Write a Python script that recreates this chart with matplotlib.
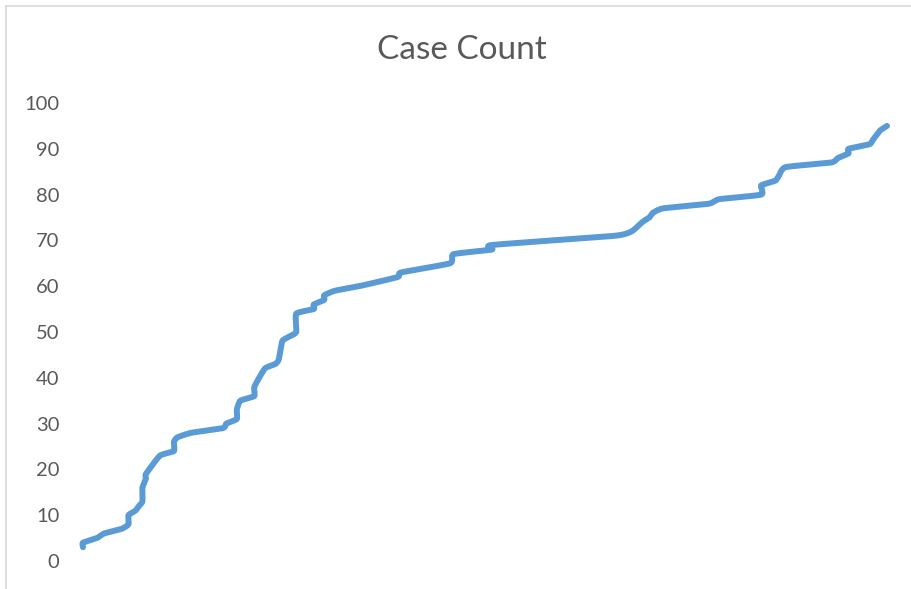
import numpy as np
import matplotlib.pyplot as plt
from matplotlib.lines import Line2D

# cumulative case count by day (several reports on one day give vertical steps)
days = [0, 0, 4, 6, 11, 13, 13, 15, 16, 17, 17, 18, 18, 22, 26, 26, 27, 31,
        40, 41, 44, 44, 45, 49, 49, 52, 55, 56, 57, 59, 61, 61, 66, 66, 69, 69,
        72, 79, 90, 91, 105, 106, 117, 117, 152, 157, 160, 162, 163, 166, 179,
        182, 194, 194, 198, 199, 201, 214, 216, 219, 219, 225, 226, 227, 228, 230]
cases = [3, 4, 5, 6, 7, 8, 10, 11, 12, 13, 16, 18, 19, 23, 24, 26, 27, 28,
         29, 30, 31, 33, 35, 36, 38, 42, 43, 44, 48, 49, 50, 54, 55, 56, 57, 58,
         59, 60, 62, 63, 65, 67, 68, 69, 71, 72, 74, 75, 76, 77, 78,
         79, 80, 82, 83, 84, 86, 87, 88, 89, 90, 91, 92, 93, 94, 95]
yticks = list(range(0, 101, 10))

W, H = 911, 589
BLUE = "#5B9BD5"
GREY = "#595959"

fig = plt.figure(figsize=(W / 100, H / 100), dpi=100)
ax_l, ax_r, ax_b, ax_t = 83, 887, 561, 103
ax = fig.add_axes([ax_l / W, (H - ax_b) / H, (ax_r - ax_l) / W, (ax_b - ax_t) / H])
ax.set_xlim(0, max(days))
ax.set_ylim(0, 100)


def smooth(x, y, sx, sy, k=12, n=16):
	"""
	Catmull-Rom style smoothing (low tension), done in pixel units.
	"""
	p = np.column_stack([np.asarray(x, float) * sx, np.asarray(y, float) * sy])
	p = np.vstack([p[0], p, p[-1]])
	t = np.linspace(0, 1, n)[:, None]
	out = []
	for i in range(1, len(p) - 2):
		p0, p1, p2, p3 = p[i - 1], p[i], p[i + 1], p[i + 2]
		c1 = p1 + (p2 - p0) / k
		c2 = p2 - (p3 - p1) / k
		seg = ((1 - t) ** 3) * p1 + 3 * ((1 - t) ** 2) * t * c1 + 3 * (1 - t) * t ** 2 * c2 + t ** 3 * p2
		out.append(seg if i == 1 else seg[1:])
	out = np.vstack(out)
	return out[:, 0] / sx, out[:, 1] / sy


sx = (ax_r - ax_l) / max(days)
sy = (ax_b - ax_t) / 100
xs, ys = smooth(days, cases, sx, sy)
ax.plot(xs, ys, color=BLUE, lw=4.3, solid_capstyle="round", solid_joinstyle="round", clip_on=False)

ax.set_yticks(yticks)
ax.set_yticklabels([str(v) for v in yticks], family="Lato", fontsize=14.5, color=GREY)
ax.tick_params(axis="y", length=0, pad=17)
ax.set_xticks([])
for s in ax.spines.values():
	s.set_visible(False)

fig.text(462 / W, 1 - 50 / H, "Case Count", ha="center", va="center",
         family="Lato", fontsize=24, color=GREY)

# chart frame (only top and left edges are inside the crop)
fig.add_artist(Line2D([5.5 / W, 5.5 / W], [0, 1 - 6 / H], transform=fig.transFigure, color="#D9D9D9", lw=1.2))
fig.add_artist(Line2D([5.5 / W, 1], [1 - 6 / H, 1 - 6 / H], transform=fig.transFigure, color="#D9D9D9", lw=1.2))

fig.savefig("out.png", dpi=100)
